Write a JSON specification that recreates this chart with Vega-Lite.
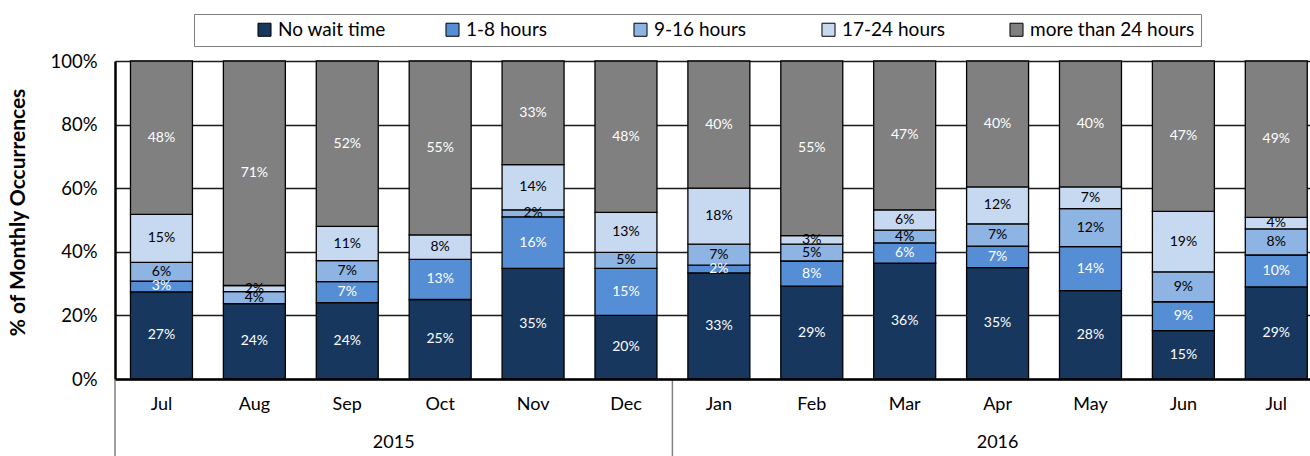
{
  "$schema": "https://vega.github.io/schema/vega-lite/v6.json",
  "width": 1195,
  "height": 318,
  "autosize": {"type": "none"},
  "padding": {"left": 115, "top": 61, "right": 0, "bottom": 77},
  "background": "white",
  "config": {"font": "Lato", "view": {"stroke": null}},
  "data": {"values": [
    {"m": "Jul 2015", "wait": "No wait time", "idx": 0, "v": 0.274},
    {"m": "Jul 2015", "wait": "1-8 hours", "idx": 1, "v": 0.034},
    {"m": "Jul 2015", "wait": "9-16 hours", "idx": 2, "v": 0.059},
    {"m": "Jul 2015", "wait": "17-24 hours", "idx": 3, "v": 0.151},
    {"m": "Jul 2015", "wait": "more than 24 hours", "idx": 4, "v": 0.482},
    {"m": "Aug 2015", "wait": "No wait time", "idx": 0, "v": 0.237},
    {"m": "Aug 2015", "wait": "9-16 hours", "idx": 2, "v": 0.038},
    {"m": "Aug 2015", "wait": "17-24 hours", "idx": 3, "v": 0.019},
    {"m": "Aug 2015", "wait": "more than 24 hours", "idx": 4, "v": 0.706},
    {"m": "Sep 2015", "wait": "No wait time", "idx": 0, "v": 0.240},
    {"m": "Sep 2015", "wait": "1-8 hours", "idx": 1, "v": 0.066},
    {"m": "Sep 2015", "wait": "9-16 hours", "idx": 2, "v": 0.066},
    {"m": "Sep 2015", "wait": "17-24 hours", "idx": 3, "v": 0.108},
    {"m": "Sep 2015", "wait": "more than 24 hours", "idx": 4, "v": 0.520},
    {"m": "Oct 2015", "wait": "No wait time", "idx": 0, "v": 0.250},
    {"m": "Oct 2015", "wait": "1-8 hours", "idx": 1, "v": 0.126},
    {"m": "Oct 2015", "wait": "17-24 hours", "idx": 3, "v": 0.077},
    {"m": "Oct 2015", "wait": "more than 24 hours", "idx": 4, "v": 0.547},
    {"m": "Nov 2015", "wait": "No wait time", "idx": 0, "v": 0.348},
    {"m": "Nov 2015", "wait": "1-8 hours", "idx": 1, "v": 0.162},
    {"m": "Nov 2015", "wait": "9-16 hours", "idx": 2, "v": 0.022},
    {"m": "Nov 2015", "wait": "17-24 hours", "idx": 3, "v": 0.142},
    {"m": "Nov 2015", "wait": "more than 24 hours", "idx": 4, "v": 0.326},
    {"m": "Dec 2015", "wait": "No wait time", "idx": 0, "v": 0.200},
    {"m": "Dec 2015", "wait": "1-8 hours", "idx": 1, "v": 0.148},
    {"m": "Dec 2015", "wait": "9-16 hours", "idx": 2, "v": 0.050},
    {"m": "Dec 2015", "wait": "17-24 hours", "idx": 3, "v": 0.126},
    {"m": "Dec 2015", "wait": "more than 24 hours", "idx": 4, "v": 0.476},
    {"m": "Jan 2016", "wait": "No wait time", "idx": 0, "v": 0.334},
    {"m": "Jan 2016", "wait": "1-8 hours", "idx": 1, "v": 0.024},
    {"m": "Jan 2016", "wait": "9-16 hours", "idx": 2, "v": 0.066},
    {"m": "Jan 2016", "wait": "17-24 hours", "idx": 3, "v": 0.176},
    {"m": "Jan 2016", "wait": "more than 24 hours", "idx": 4, "v": 0.400},
    {"m": "Feb 2016", "wait": "No wait time", "idx": 0, "v": 0.292},
    {"m": "Feb 2016", "wait": "1-8 hours", "idx": 1, "v": 0.079},
    {"m": "Feb 2016", "wait": "9-16 hours", "idx": 2, "v": 0.053},
    {"m": "Feb 2016", "wait": "17-24 hours", "idx": 3, "v": 0.027},
    {"m": "Feb 2016", "wait": "more than 24 hours", "idx": 4, "v": 0.549},
    {"m": "Mar 2016", "wait": "No wait time", "idx": 0, "v": 0.364},
    {"m": "Mar 2016", "wait": "1-8 hours", "idx": 1, "v": 0.064},
    {"m": "Mar 2016", "wait": "9-16 hours", "idx": 2, "v": 0.040},
    {"m": "Mar 2016", "wait": "17-24 hours", "idx": 3, "v": 0.064},
    {"m": "Mar 2016", "wait": "more than 24 hours", "idx": 4, "v": 0.468},
    {"m": "Apr 2016", "wait": "No wait time", "idx": 0, "v": 0.350},
    {"m": "Apr 2016", "wait": "1-8 hours", "idx": 1, "v": 0.068},
    {"m": "Apr 2016", "wait": "9-16 hours", "idx": 2, "v": 0.070},
    {"m": "Apr 2016", "wait": "17-24 hours", "idx": 3, "v": 0.116},
    {"m": "Apr 2016", "wait": "more than 24 hours", "idx": 4, "v": 0.396},
    {"m": "May 2016", "wait": "No wait time", "idx": 0, "v": 0.278},
    {"m": "May 2016", "wait": "1-8 hours", "idx": 1, "v": 0.138},
    {"m": "May 2016", "wait": "9-16 hours", "idx": 2, "v": 0.120},
    {"m": "May 2016", "wait": "17-24 hours", "idx": 3, "v": 0.068},
    {"m": "May 2016", "wait": "more than 24 hours", "idx": 4, "v": 0.396},
    {"m": "Jun 2016", "wait": "No wait time", "idx": 0, "v": 0.152},
    {"m": "Jun 2016", "wait": "1-8 hours", "idx": 1, "v": 0.091},
    {"m": "Jun 2016", "wait": "9-16 hours", "idx": 2, "v": 0.094},
    {"m": "Jun 2016", "wait": "17-24 hours", "idx": 3, "v": 0.190},
    {"m": "Jun 2016", "wait": "more than 24 hours", "idx": 4, "v": 0.473},
    {"m": "Jul 2016", "wait": "No wait time", "idx": 0, "v": 0.290},
    {"m": "Jul 2016", "wait": "1-8 hours", "idx": 1, "v": 0.100},
    {"m": "Jul 2016", "wait": "9-16 hours", "idx": 2, "v": 0.082},
    {"m": "Jul 2016", "wait": "17-24 hours", "idx": 3, "v": 0.036},
    {"m": "Jul 2016", "wait": "more than 24 hours", "idx": 4, "v": 0.492}
  ]},
  "layer": [
    {
      "mark": {"type": "bar", "stroke": "#000", "strokeWidth": 1.3},
      "encoding": {
        "x": {
          "field": "m", "type": "nominal",
          "scale": {
            "domain": ["Jul 2015", "Aug 2015", "Sep 2015", "Oct 2015", "Nov 2015", "Dec 2015", "Jan 2016", "Feb 2016", "Mar 2016", "Apr 2016", "May 2016", "Jun 2016", "Jul 2016"],
            "paddingInner": 0.333, "paddingOuter": 0.098, "align": 0.85
          },
          "axis": {
            "title": null, "labelExpr": "split(datum.label, ' ')[0]", "labelFontSize": 18,
            "labelPadding": 16, "ticks": false, "domainColor": "#000", "domainWidth": 2.5,
            "labelColor": "#000", "labelAngle": 0, "zindex": 1
          }
        },
        "y": {
          "field": "v", "type": "quantitative", "stack": "zero",
          "scale": {"domain": [0, 1], "nice": false},
          "axis": {
            "title": "% of Monthly Occurrences", "titleFontSize": 21, "titleFontWeight": "bold",
            "titleColor": "#000", "titleX": -87, "titleY": 151, "titleAlign": "center",
            "values": [0, 0.2, 0.4, 0.6, 0.8, 1], "format": ".0%", "labelFontSize": 18.5,
            "labelPadding": 18, "ticks": false, "domainColor": "#000", "domainWidth": 2.5,
            "gridColor": "#1a1a1a", "gridWidth": 1.6, "labelColor": "#000", "zindex": 0
          }
        },
        "color": {
          "field": "wait", "type": "nominal",
          "scale": {
            "domain": ["No wait time", "1-8 hours", "9-16 hours", "17-24 hours", "more than 24 hours"],
            "range": ["#17375E", "#558ED5", "#8EB4E3", "#C6D9F1", "#808080"]
          },
          "legend": {
            "orient": "none", "legendX": 79, "legendY": -47, "direction": "horizontal",
            "title": " ", "titleOrient": "left", "titlePadding": 55,
            "strokeColor": "#808080", "fillColor": "#fff", "padding": 6,
            "symbolType": "square", "symbolSize": 170, "symbolStrokeColor": "#000",
            "symbolStrokeWidth": 1, "symbolOpacity": 1, "labelFontSize": 19, "labelColor": "#000",
            "labelOffset": 4, "labelLimit": 500, "columnPadding": -37, "gridAlign": "all", "columns": 5,
            "labelExpr": "datum.label == 'more than 24 hours' ? datum.label + '\u00a0\u00a0\u00a0\u00a0\u00a0\u00a0\u00a0\u00a0\u00a0\u00a0\u00a0\u00a0\u00a0' : datum.label"
          }
        },
        "order": {"field": "idx", "type": "quantitative"}
      }
    },
    {
      "mark": {"type": "text", "fontSize": 14, "baseline": "middle"},
      "encoding": {
        "x": {"field": "m", "type": "nominal"},
        "y": {"field": "v", "type": "quantitative", "stack": "zero", "bandPosition": 0.5},
        "order": {"field": "idx", "type": "quantitative"},
        "detail": {"field": "wait"},
        "text": {"field": "v", "type": "quantitative", "format": ".0%"},
        "color": {"condition": {"test": "datum.idx == 2 || datum.idx == 3", "value": "#000"}, "value": "#fff"}
      }
    },
    {
      "data": {"values": [{"m": "Jul 2015"}, {"m": "Jan 2016"}]},
      "mark": {"type": "rule", "color": "#808080", "strokeWidth": 1.5},
      "encoding": {
        "x": {"field": "m", "type": "nominal", "bandPosition": -0.25},
        "y": {"datum": 0, "type": "quantitative"},
        "y2": {"datum": -0.25}
      }
    },
    {
      "data": {"values": [{"m": "Oct 2015", "year": "2015"}]},
      "mark": {"type": "text", "fontSize": 18, "baseline": "middle", "color": "#000"},
      "encoding": {
        "x": {"field": "m", "type": "nominal", "bandPosition": -0.25},
        "y": {"datum": -0.2, "type": "quantitative"},
        "text": {"field": "year"}
      }
    },
    {
      "data": {"values": [{"m": "Apr 2016", "year": "2016"}]},
      "mark": {"type": "text", "fontSize": 18, "baseline": "middle", "color": "#000"},
      "encoding": {
        "x": {"field": "m", "type": "nominal", "bandPosition": 0.5},
        "y": {"datum": -0.2, "type": "quantitative"},
        "text": {"field": "year"}
      }
    }
  ]
}
